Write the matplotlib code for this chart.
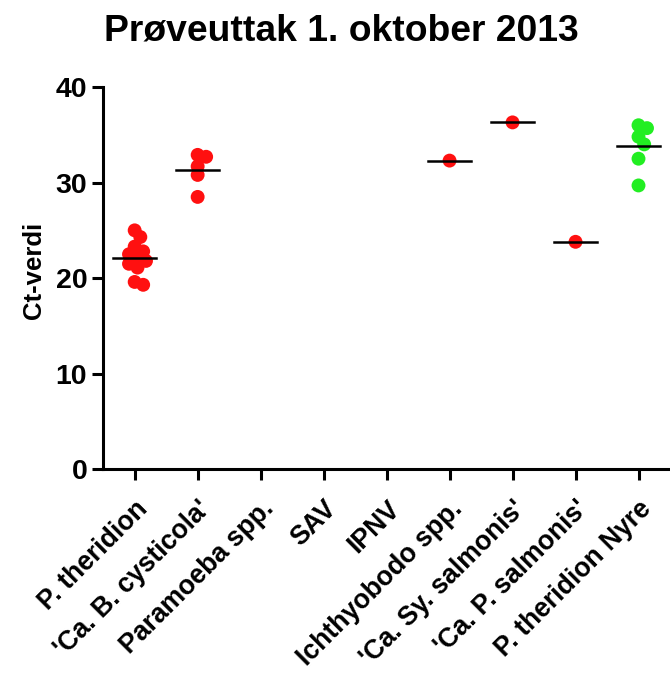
import matplotlib
matplotlib.use("Agg")
import matplotlib.pyplot as plt
import numpy as np

plt.rcParams['font.family'] = ['Liberation Sans', 'DejaVu Sans']

title = "Prøveuttak 1. oktober 2013"
ylabel = "Ct-verdi"
categories = ["P. theridion", "'Ca. B. cysticola'", "Paramoeba spp.", "SAV", "IPNV",
              "Ichthyobodo spp.", "'Ca. Sy. salmonis'", "'Ca. P. salmonis'", "P. theridion Nyre"]
values = [
    [25.0, 24.3, 23.3, 22.8, 22.5, 22.1, 21.8, 21.5, 21.1, 19.6, 19.3],
    [32.9, 32.7, 31.7, 30.8, 28.5],
    [],
    [],
    [],
    [32.3],
    [36.3],
    [23.8],
    [36.0, 35.7, 34.8, 34.0, 32.5, 29.7],
]
colors = ["#ff1010"] * 8 + ["#22ee22"]
yticks = [0, 10, 20, 30, 40]

fig = plt.figure(figsize=(6.7, 6.8), dpi=100)
ax = fig.add_axes([0.154, 0.310, 0.846, 0.562])
ax.set_xlim(-0.5, 8.5)
ax.set_ylim(0, 40)

# pixel scales for a simple beeswarm layout
p0 = ax.transData.transform((0, 0))
p1 = ax.transData.transform((1, 1))
xs, ys = p1[0] - p0[0], p1[1] - p0[1]
dmin = 8.5

def swarm(vals):
    placed = []
    offs = []
    for v in vals:
        y = v * ys
        cands = [0.0]
        for k in range(1, 30):
            cands += [k * dmin / 3, -k * dmin / 3]
        for c in cands:
            if all((c - px) ** 2 + (y - py) ** 2 >= dmin ** 2 for px, py in placed):
                break
        placed.append((c, y))
        offs.append(c / xs)
    return offs

for i, vals in enumerate(values):
    if not vals:
        continue
    offs = swarm(vals)
    ax.scatter([i + o for o in offs], vals, s=100, color=colors[i], edgecolors='none', zorder=3)
    m = np.mean(vals)
    ax.plot([i - 0.34, i + 0.34], [m, m], color='black', lw=1.8, zorder=4)

for s in ['top', 'right']:
    ax.spines[s].set_visible(False)
for s in ['left', 'bottom']:
    ax.spines[s].set_linewidth(2.2)
ax.tick_params(axis='both', width=2.2, length=8, direction='out')
ax.tick_params(axis='x', pad=11)
ax.set_yticks(yticks)
ax.set_yticklabels([str(t) for t in yticks], fontsize=20.5, fontweight='bold')
ax.set_xticks(range(len(categories)))
ax.set_xticklabels(categories, rotation=45, ha='right', rotation_mode='anchor',
                   fontsize=19.2, fontweight='bold')
ax.set_ylabel(ylabel, fontsize=18.5, fontweight='bold')
ax.yaxis.set_label_coords(-0.10, 0.52)
fig.text(0.51, 0.955, title, ha='center', va='center', fontsize=26.8, fontweight='bold')

fig.savefig("out.png", dpi=100)
